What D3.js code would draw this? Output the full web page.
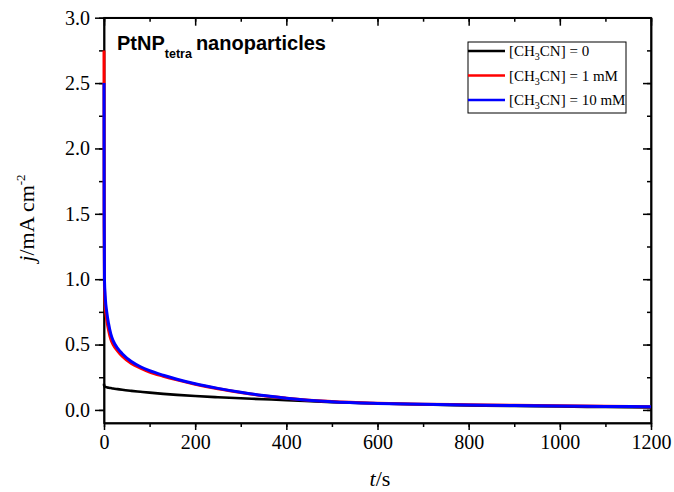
<!DOCTYPE html>
<meta charset="utf-8">
<style>
body { margin: 0; background: #fff; }
svg { display: block; }
.axis path, .axis line { stroke: #000; stroke-width: 1.5px; }
.axis text { font-family: 'Liberation Serif', 'Times New Roman', serif; font-size: 20px; fill: #000; }
.serif { font-family: 'Liberation Serif', 'Times New Roman', serif; }
.curve { fill: none; stroke-linejoin: round; }
</style>
<body>
<div id="chart"></div>
<script src="https://cdn.jsdelivr.net/npm/d3@7"></script>
<script>
// time points (s) and current densities (mA cm^-2)
var times   = [0, 0.3, 1, 3, 6, 10, 15, 20, 30, 40, 60, 80, 100, 130, 160, 200, 250, 300, 350, 400, 500, 600, 700, 800, 900, 1000, 1100, 1200];
var jNone   = [0.20, 0.185, 0.18, 0.177, 0.173, 0.17, 0.167, 0.164, 0.159, 0.154, 0.146, 0.139, 0.132, 0.123, 0.115, 0.106, 0.097, 0.089, 0.082, 0.075, 0.06, 0.049, 0.041, 0.035, 0.03, 0.026, 0.022, 0.019];
var j1mM    = [2.75, 1.4, 0.95, 0.78, 0.69, 0.61, 0.54, 0.50, 0.45, 0.41, 0.355, 0.32, 0.29, 0.258, 0.23, 0.197, 0.162, 0.133, 0.108, 0.09, 0.064, 0.051, 0.044, 0.039, 0.035, 0.031, 0.028, 0.024];
var j10mM   = [2.5, 1.5, 1.0, 0.85, 0.75, 0.66, 0.58, 0.53, 0.47, 0.43, 0.37, 0.33, 0.30, 0.265, 0.235, 0.20, 0.165, 0.135, 0.11, 0.09, 0.063, 0.05, 0.043, 0.038, 0.034, 0.03, 0.027, 0.024];
var seriesNames  = ['0', '1 mM', '10 mM'];
var seriesColors = ['#000000', '#ff0000', '#0000ff'];
var xMajor = [0, 200, 400, 600, 800, 1000, 1200];
var yMajor = [0, 0.5, 1.0, 1.5, 2.0, 2.5, 3.0];

var W = 674, H = 492;
var mLeft = 104, mRight = 651, mTop = 17.7, mBottom = 423;

var svg = d3.select('#chart').append('svg')
  .attr('width', W)
  .attr('height', H)

var x = d3.scaleLinear().domain([0, 1200]).range([mLeft, mRight]);
var y = d3.scaleLinear().domain([-0.1, 3.0]).range([mBottom, mTop]);

var xMinor = d3.range(0, 1201, 100);
var yMinor = d3.range(0, 3.01, 0.25);

svg.append('defs').append('clipPath').attr('id', 'clip')
  .append('rect')
    .attr('x', mLeft - 2).attr('y', mTop)
    .attr('width', mRight - mLeft + 2).attr('height', mBottom - mTop);

// axes: minor ticks then major ticks
function addAxis(axisFn, scale, transform, vals, size, labels) {
  var ax = axisFn(scale).tickValues(vals).tickSizeInner(size).tickSizeOuter(0).tickPadding(5);
  if (!labels) ax.tickFormat('');
  else ax.tickFormat(labels);
  svg.append('g').attr('class', 'axis').attr('transform', transform).call(ax);
}

addAxis(d3.axisBottom, x, 'translate(0,' + mBottom + ')', xMinor, 4, null);
addAxis(d3.axisBottom, x, 'translate(0,' + mBottom + ')', xMajor, 7, d3.format('d'));
addAxis(d3.axisTop, x, 'translate(0,' + mTop + ')', xMinor, -4, null);
addAxis(d3.axisTop, x, 'translate(0,' + mTop + ')', xMajor, -8, null);
addAxis(d3.axisLeft, y, 'translate(' + mLeft + ',0)', yMinor, 5, null);
addAxis(d3.axisLeft, y, 'translate(' + mLeft + ',0)', yMajor, 9, d3.format('.1f'));
addAxis(d3.axisRight, y, 'translate(' + mRight + ',0)', yMinor, -4, null);
addAxis(d3.axisRight, y, 'translate(' + mRight + ',0)', yMajor, -8, null);

// frame
svg.append('rect')
  .attr('x', mLeft).attr('y', mTop)
  .attr('width', mRight - mLeft).attr('height', mBottom - mTop)
  .attr('fill', 'none').attr('stroke', '#000').attr('stroke-width', 1.5);

// curves, drawn over the frame like the original
var allSeries = [jNone, j1mM, j10mM];
var line = d3.line()
  .x(function(d) { return x(d[0]); })
  .y(function(d) { return y(d[1]); })
  .curve(d3.curveMonotoneX);

for (var s = 0; s < allSeries.length; s++) {
  var pts = times.map(function(t, i) { return [t, allSeries[s][i]]; });
  svg.append('path')
    .attr('class', 'curve')
    .attr('clip-path', 'url(#clip)')
    .attr('stroke', seriesColors[s])
    .attr('stroke-width', s == 0 ? 2.6 : 3)
    .attr('d', line(pts));
}

// axis titles
var xt = svg.append('text')
  .attr('class', 'serif')
  .attr('x', 380).attr('y', 486)
  .attr('text-anchor', 'middle')
  .style('font-size', '22px');
xt.append('tspan').style('font-style', 'italic').text('t');
xt.append('tspan').text('/s');

var yt = svg.append('text')
  .attr('class', 'serif')
  .attr('transform', 'translate(34,218) rotate(-90)')
  .attr('text-anchor', 'middle')
  .style('font-size', '22px');
yt.append('tspan').style('font-style', 'italic').text('j');
yt.append('tspan').text('/mA cm');
yt.append('tspan').attr('dy', -9).style('font-size', '13px').text('-2');

// title
var title = svg.append('text')
  .attr('x', 117).attr('y', 50)
  .style('font-family', "'Liberation Sans', Arial, sans-serif")
  .style('font-weight', 'bold')
  .style('font-size', '20px');
title.append('tspan').text('PtNP');
title.append('tspan').attr('dy', 8).style('font-size', '12.5px').text('tetra');
title.append('tspan').attr('dy', -8).attr('dx', 4).text('nanoparticles');

// legend
svg.append('rect')
  .attr('x', 468).attr('y', 42)
  .attr('width', 158).attr('height', 71)
  .attr('fill', 'white').attr('stroke', '#000').attr('stroke-width', 1);

for (var k = 0; k < seriesNames.length; k++) {
  var ly = 51 + k * 24.5;
  svg.append('line')
    .attr('x1', 468).attr('x2', 505)
    .attr('y1', ly).attr('y2', ly)
    .attr('stroke', seriesColors[k]).attr('stroke-width', 2.4);
  var lt = svg.append('text')
    .attr('class', 'serif')
    .attr('x', 509).attr('y', ly + 5)
    .style('font-size', '15px');
  lt.append('tspan').text('[CH');
  lt.append('tspan').attr('dy', 4).style('font-size', '10px').text('3');
  lt.append('tspan').attr('dy', -4).text('CN] = ' + seriesNames[k]);
}
</script>
</body>
